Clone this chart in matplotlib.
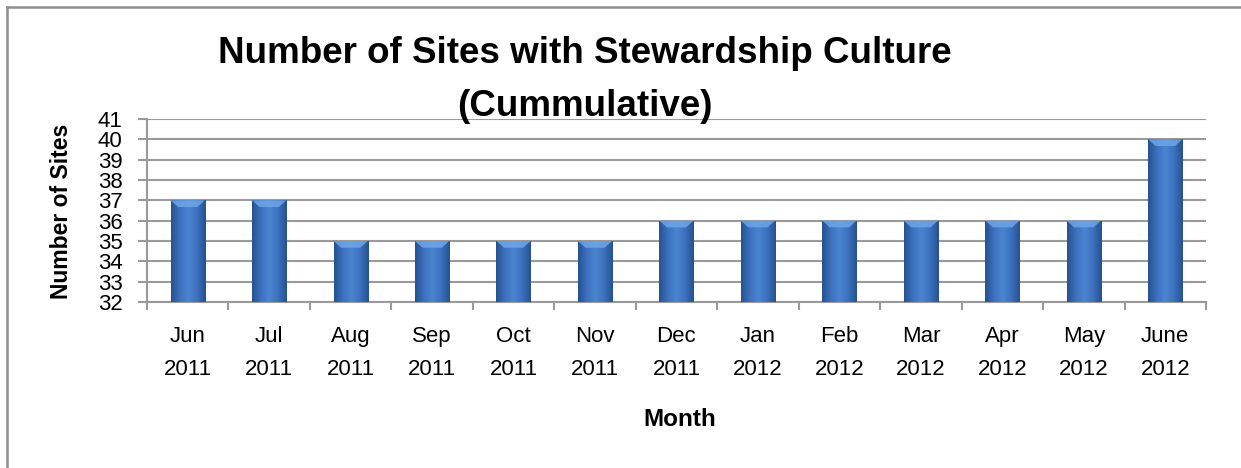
import matplotlib
matplotlib.use("Agg")
import matplotlib.pyplot as plt
import numpy as np
from matplotlib.colors import LinearSegmentedColormap
from matplotlib.lines import Line2D
from matplotlib.patches import Polygon

months = ["Jun\n2011", "Jul\n2011", "Aug\n2011", "Sep\n2011", "Oct\n2011", "Nov\n2011",
          "Dec\n2011", "Jan\n2012", "Feb\n2012", "Mar\n2012", "Apr\n2012", "May\n2012",
          "June\n2012"]
sites = [37, 37, 35, 35, 35, 35, 36, 36, 36, 36, 36, 36, 40]
y_ticks = [32, 33, 34, 35, 36, 37, 38, 39, 40, 41]

title_line1 = "Number of Sites with Stewardship Culture"
title_line2 = "(Cummulative)"
x_title = "Month"
y_title = "Number of Sites"

plt.rcParams['font.family'] = ['Liberation Sans', 'DejaVu Sans']

fig = plt.figure(figsize=(12.41, 4.68), dpi=100)
ax = fig.add_axes([147/1241, 1-302/468, (1206-147)/1241, (302-119)/468])

x = np.arange(len(sites))
base = y_ticks[0]
bars = ax.bar(x, np.array(sites) - base, bottom=base, width=0.42,
              color='#3A6FBF', edgecolor='none', zorder=2)

cmap = LinearSegmentedColormap.from_list(
    "bar", ["#26528F", "#3C71BE", "#4A84D0", "#3C71BE", "#26528F"])
grad = np.linspace(0, 1, 64).reshape(1, -1)
for b in bars:
    x0 = b.get_x(); w = b.get_width(); h = b.get_height(); y0 = b.get_y()
    im = ax.imshow(grad, cmap=cmap, extent=(x0, x0 + w, y0, y0 + h),
                   aspect='auto', zorder=3, interpolation='bicubic')
    im.set_clip_path(b)
    # light bevel at the top of each bar
    top = y0 + h
    d = 0.33
    bevel = Polygon([(x0, top), (x0 + w, top), (x0 + w * 0.78, top - d),
                     (x0 + w * 0.22, top - d)], closed=True,
                    facecolor='#6FA6E8', edgecolor='none', alpha=0.85, zorder=4)
    ax.add_patch(bevel)

ax.set_xlim(-0.5, len(sites) - 0.5)
ax.set_ylim(y_ticks[0], y_ticks[-1])
ax.set_yticks(y_ticks)
ax.set_yticklabels([str(t) for t in y_ticks])
ax.set_xticks(x)
ax.set_xticklabels(months, linespacing=1.75)
ax.set_xticks(np.arange(-0.5, len(sites), 1.0), minor=True)

grid_c = '#9A9A9A'
ax.yaxis.grid(True, color=grid_c, linewidth=1.5, zorder=0)
ax.set_axisbelow(True)
for s in ['top', 'right']:
    ax.spines[s].set_visible(False)
for s in ['left', 'bottom']:
    ax.spines[s].set_color(grid_c)
    ax.spines[s].set_linewidth(1.5)

ax.tick_params(axis='y', which='major', length=6.5, width=1.5, color=grid_c,
               labelsize=16, pad=11)
ax.tick_params(axis='x', which='major', length=0, labelsize=16, pad=17)
ax.tick_params(axis='x', which='minor', length=6, width=1.5, color=grid_c)

fig.text(0.471, 1 - 63/468, title_line1, ha='center', va='baseline',
         fontsize=26.5, fontweight='bold')
fig.text(0.471, 1 - 116/468, title_line2, ha='center', va='baseline',
         fontsize=26.5, fontweight='bold')
fig.text(680/1241, 1 - 426/468, x_title, ha='center', va='baseline',
         fontsize=17.5, fontweight='bold')
fig.text(61.5/1241, 1 - 211.5/468, y_title, ha='center', va='center',
         rotation=90, fontsize=16.5, fontweight='bold')

frame_c = '#8F8F8F'
fig.add_artist(Line2D([7/1241, 1], [1 - 7/468, 1 - 7/468], transform=fig.transFigure,
                      color=frame_c, linewidth=1.8))
fig.add_artist(Line2D([7/1241, 7/1241], [0, 1 - 7/468], transform=fig.transFigure,
                      color=frame_c, linewidth=1.8))

fig.savefig("out.png", dpi=100, facecolor='white')
